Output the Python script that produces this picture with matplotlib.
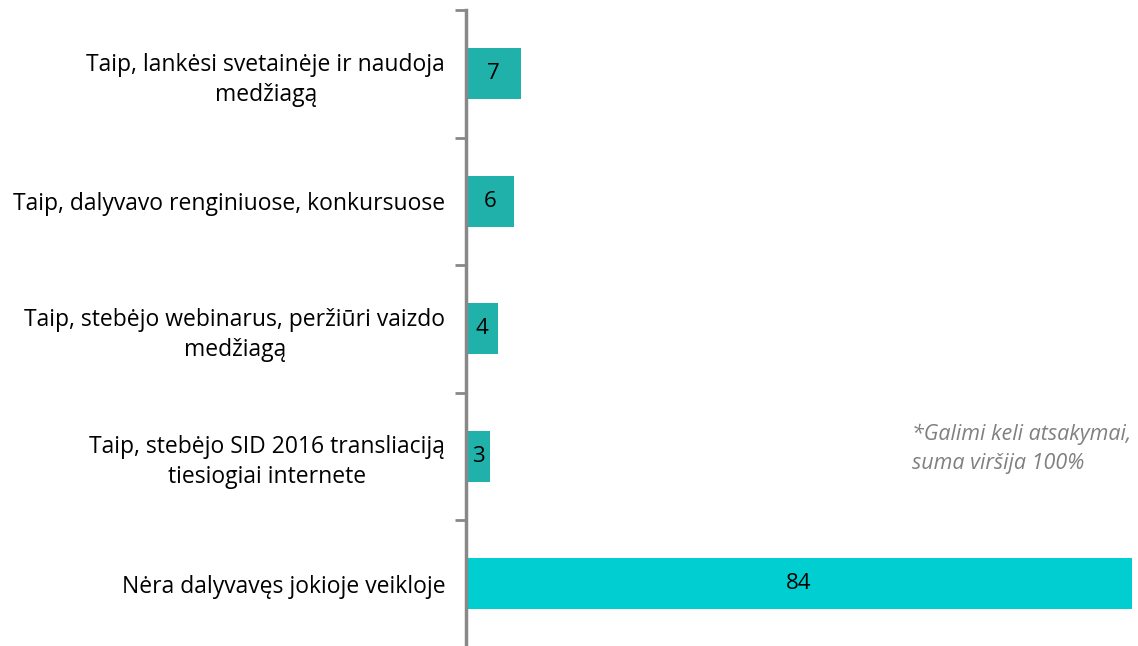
import numpy as np
import matplotlib.pyplot as plt

# ==== Data ====
labels = ['Taip, lankėsi svetainėje ir naudoja\nmedžiagą',
          'Taip, dalyvavo renginiuose, konkursuose',
          'Taip, stebėjo webinarus, peržiūri vaizdo\nmedžiagą',
          'Taip, stebėjo SID 2016 transliaciją\ntiesiogiai internete',
          'Nėra dalyvavęs jokioje veikloje']
values = [7, 6, 4, 3, 84]
colors = ['#20b2aa', '#20b2aa', '#20b2aa', '#20b2aa', '#00ced1']
note = '*Galimi keli atsakymai,\nsuma viršija 100%'

plt.rcParams['font.family'] = ['Open Sans', 'DejaVu Sans']

fig = plt.figure(figsize=(11.38, 6.46), dpi=100)
ax = fig.add_axes([466/1138, -1.5/646, 1 - 466/1138, 637.5/646])

ypos = np.arange(len(values))
bars = ax.barh(ypos, values, height=0.4, color=colors)
for y, v in zip(ypos, values):
    ax.text(v/2, y, str(v), ha='center', va='center', fontsize=16, color='black')

ax.set_ylim(len(values) - 0.5, -0.5)
ax.set_xlim(0, 84.8)

# boundary ticks between categories, labels on minor ticks
ax.set_yticks(np.arange(len(values) + 1) - 0.5)
ax.set_yticklabels([])
ax.set_yticks(ypos, minor=True)
ax.set_yticklabels(labels, minor=True, fontsize=16.5, multialignment='center',
                   linespacing=1.32)
ax.tick_params(axis='y', which='major', length=8, width=2, color='#888888')
ax.tick_params(axis='y', which='minor', length=0, pad=15)
ax.set_xticks([])

for s in ['top', 'right', 'bottom']:
    ax.spines[s].set_visible(False)
ax.spines['left'].set_color('#888888')
ax.spines['left'].set_linewidth(2.5)

fig.text(912/1138, 1 - 449/646, note, ha='left', va='center', fontsize=15.5,
         style='italic', color='#808080', linespacing=1.5)

fig.savefig('out.png', dpi=100)
